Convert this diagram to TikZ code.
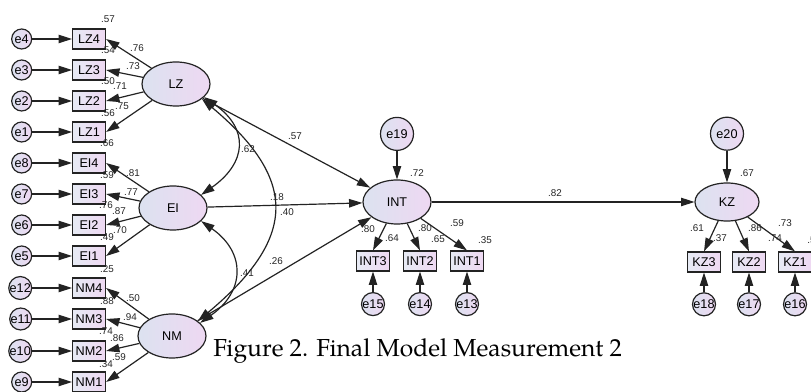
\documentclass[tikz,border=0pt]{standalone}
\usepackage{fontspec}
\setmainfont{Liberation Sans}
\newfontfamily\capfont{TeX Gyre Pagella}
\usetikzlibrary{arrows.meta, positioning, shapes.geometric}
\definecolor{semline}{RGB}{35,35,35}
\definecolor{semblue}{RGB}{220,226,240}
\definecolor{sempink}{RGB}{238,216,242}
\tikzset{
    obs/.style={draw=semline, line width=0.85pt, left color=semblue!70!white, right color=sempink,
                minimum width=0.825cm, minimum height=0.5cm, inner sep=0pt, font=\fontsize{9}{10}\selectfont},
    lat/.style={ellipse, draw=semline, line width=0.85pt, left color=semblue, right color=sempink,
                minimum width=1.7cm, minimum height=1.1cm, inner sep=0pt, font=\fontsize{9}{10}\selectfont},
    err/.style={circle, draw=semline, line width=0.85pt, left color=semblue, right color=sempink,
                minimum size=0.5cm, inner sep=0pt, font=\fontsize{9}{10}\selectfont},
    bigerr/.style={err, minimum size=0.825cm},
    lowerr/.style={err, minimum size=0.575cm},
    arr/.style={-{Triangle[length=9.5pt,width=6pt]}, line width=0.85pt, semline},
    cov/.style={{Triangle[length=9.5pt,width=6pt]}-{Triangle[length=9.5pt,width=6pt]}, line width=0.85pt, semline},
    num/.style={font=\fontsize{7}{8}\selectfont, inner sep=0pt, text=black!85},
}

\begin{document}
\begin{tikzpicture}[x=0.025cm, y=-0.025cm]
    \path[use as bounding box, fill=white] (0,0) rectangle (811,392);
    % indicators of the three exogenous factors
    \node[obs] (LZ4) at (89,39) {LZ4};
    \node[obs] (LZ3) at (89,70) {LZ3};
    \node[obs] (LZ2) at (89,101) {LZ2};
    \node[obs] (LZ1) at (89,132) {LZ1};
    \node[obs] (EI4) at (89,163) {EI4};
    \node[obs] (EI3) at (89,194) {EI3};
    \node[obs] (EI2) at (89,225) {EI2};
    \node[obs] (EI1) at (89,256) {EI1};
    \node[obs] (NM4) at (89,288) {NM4};
    \node[obs] (NM3) at (89,319) {NM3};
    \node[obs] (NM2) at (89,351) {NM2};
    \node[obs] (NM1) at (89,382) {NM1};
    \node[err, left=0.99cm of LZ4] (e4) {e4};
    \node[err, left=0.99cm of LZ3] (e3) {e3};
    \node[err, left=0.99cm of LZ2] (e2) {e2};
    \node[err, left=0.99cm of LZ1] (e1) {e1};
    \node[err, left=0.99cm of EI4] (e8) {e8};
    \node[err, left=0.99cm of EI3] (e7) {e7};
    \node[err, left=0.99cm of EI2] (e6) {e6};
    \node[err, left=0.99cm of EI1] (e5) {e5};
    \node[err, left=0.99cm of NM4] (e12) {e12};
    \node[err, left=0.99cm of NM3] (e11) {e11};
    \node[err, left=0.99cm of NM2] (e10) {e10};
    \node[err, left=0.99cm of NM1] (e9) {e9};
    % latent variables
    \node[lat] (LZ) at (176,84) {LZ};
    \node[lat] (EI) at (173,208) {EI};
    \node[lat] (NM) at (172,336) {NM};
    \node[lat] (INT) at (397,202) {INT};
    \node[lat, minimum width=1.6cm, minimum height=0.95cm] (KZ) at (727,202) {KZ};
    \node[bigerr, above=0.71cm of INT] (e19) {e19};
    \node[bigerr, above=0.79cm of KZ] (e20) {e20};
    % indicators of INT and KZ
    \node[obs] (INT3) at (373,261) {INT3};
    \node[obs] (INT2) at (420,261) {INT2};
    \node[obs] (INT1) at (467,261) {INT1};
    \node[obs] (KZ3) at (704,262) {KZ3};
    \node[obs] (KZ2) at (749,262) {KZ2};
    \node[obs] (KZ1) at (795,262) {KZ1};
    \node[lowerr, below=0.51cm of INT3] (e15) {e15};
    \node[lowerr, below=0.51cm of INT2] (e14) {e14};
    \node[lowerr, below=0.51cm of INT1] (e13) {e13};
    \node[lowerr, below=0.49cm of KZ3] (e18) {e18};
    \node[lowerr, below=0.49cm of KZ2] (e17) {e17};
    \node[lowerr, below=0.49cm of KZ1] (e16) {e16};

    % error terms
    \draw[arr] (e4) -- (LZ4);
    \draw[arr] (e3) -- (LZ3);
    \draw[arr] (e2) -- (LZ2);
    \draw[arr] (e1) -- (LZ1);
    \draw[arr] (e8) -- (EI4);
    \draw[arr] (e7) -- (EI3);
    \draw[arr] (e6) -- (EI2);
    \draw[arr] (e5) -- (EI1);
    \draw[arr] (e12) -- (NM4);
    \draw[arr] (e11) -- (NM3);
    \draw[arr] (e10) -- (NM2);
    \draw[arr] (e9) -- (NM1);
    \draw[arr] (e19) -- (INT);
    \draw[arr] (e20) -- (KZ);
    \draw[arr] (e15) -- (INT3);
    \draw[arr] (e14) -- (INT2);
    \draw[arr] (e13) -- (INT1);
    \draw[arr] (e18) -- (KZ3);
    \draw[arr] (e17) -- (KZ2);
    \draw[arr] (e16) -- (KZ1);
    % loadings
    \draw[arr] (LZ) -- (LZ4.east);
    \draw[arr] (LZ) -- (LZ3.east);
    \draw[arr] (LZ) -- (LZ2.east);
    \draw[arr] (LZ) -- (LZ1.east);
    \draw[arr] (EI) -- (EI4.east);
    \draw[arr] (EI) -- (EI3.east);
    \draw[arr] (EI) -- (EI2.east);
    \draw[arr] (EI) -- (EI1.east);
    \draw[arr] (NM) -- (NM4.east);
    \draw[arr] (NM) -- (NM3.east);
    \draw[arr] (NM) -- (NM2.east);
    \draw[arr] (NM) -- (NM1.east);
    \draw[arr] (INT) -- (INT3.north);
    \draw[arr] (INT) -- (INT2.north);
    \draw[arr] (INT) -- (INT1.north);
    \draw[arr] (KZ) -- (KZ3.north);
    \draw[arr] (KZ) -- (KZ2.north);
    \draw[arr] (KZ) -- (KZ1.north);
    % structural paths and covariances
    \draw[arr] (LZ) -- (INT);
    \draw[arr] (EI) -- (INT);
    \draw[arr] (NM) -- (INT);
    \draw[arr] (INT) -- (KZ);
    \draw[cov] (LZ.-25) to[out=-35, in=35, looseness=1.45] (EI.25);
    \draw[cov] (EI.-25) to[out=-35, in=35, looseness=1.38] (NM.25);
    \draw[cov] (LZ.-30) to[out=-40, in=40, looseness=1.47] (NM.30);

    % estimates
    \node[num] (r4) at (108,19) {.57};
    \node[num] (r3) at (108,50) {.54};
    \node[num] (r2) at (108,81) {.50};
    \node[num] (r1) at (108,113) {.56};
    \node[num] (r8) at (107,143) {.66};
    \node[num] (r7) at (107,175) {.59};
    \node[num] (r6) at (106,205) {.76};
    \node[num] (r5) at (107,237) {.49};
    \node[num] (r12) at (107,269) {.25};
    \node[num] (r11) at (107,301) {.88};
    \node[num] (r10) at (106,331) {.74};
    \node[num] (r9) at (106,364) {.34};
    \node[num] (w4) at (137,48) {.76};
    \node[num] (w3) at (133,66) {.73};
    \node[num] (w2) at (120,86) {.71};
    \node[num] (w1) at (122,106) {.75};
    \node[num] (w8) at (133,173) {.81};
    \node[num] (w7) at (131,192) {.77};
    \node[num] (w6) at (119,211) {.87};
    \node[num] (w5) at (120,230) {.70};
    \node[num] (w12) at (133,298) {.50};
    \node[num] (w11) at (130,317) {.94};
    \node[num] (w10) at (117,338) {.86};
    \node[num] (w9) at (119,357) {.59};
    \node[num] (cLZEI) at (248,149) {.62};
    \node[num] (bLZ) at (295,136) {.57};
    \node[num] (cLZNM) at (277,197) {.18};
    \node[num] (bEI) at (287,212) {.40};
    \node[num] (bNM) at (276,261) {.26};
    \node[num] (cEINM) at (247,273) {.41};
    \node[num] (rINT) at (417,173) {.72};
    \node[num] (wINT3) at (368,229) {.80};
    \node[num] (rINT3) at (392,238) {.64};
    \node[num] (wINT2) at (425,228) {.80};
    \node[num] (rINT2) at (438,239) {.65};
    \node[num] (wINT1) at (457,223) {.59};
    \node[num] (rINT1) at (485,240) {.35};
    \node[num] (bINT) at (555,193) {.82};
    \node[num] (rKZ) at (747,173) {.67};
    \node[num] (wKZ3) at (697,228) {.61};
    \node[num] (rKZ3) at (720,238) {.37};
    \node[num] (wKZ2) at (755,228) {.86};
    \node[num] (rKZ2) at (775,238) {.74};
    \node[num] (wKZ1) at (785,223) {.73};
    \node[num, anchor=west] (rKZ1) at (807,240) {.53};

    \node[font=\capfont\fontsize{17.5}{20}\selectfont, anchor=base west, inner sep=0pt] (cap) at (213,357) {Figure 2. Final Model Measurement 2};
\end{tikzpicture}
\end{document}
